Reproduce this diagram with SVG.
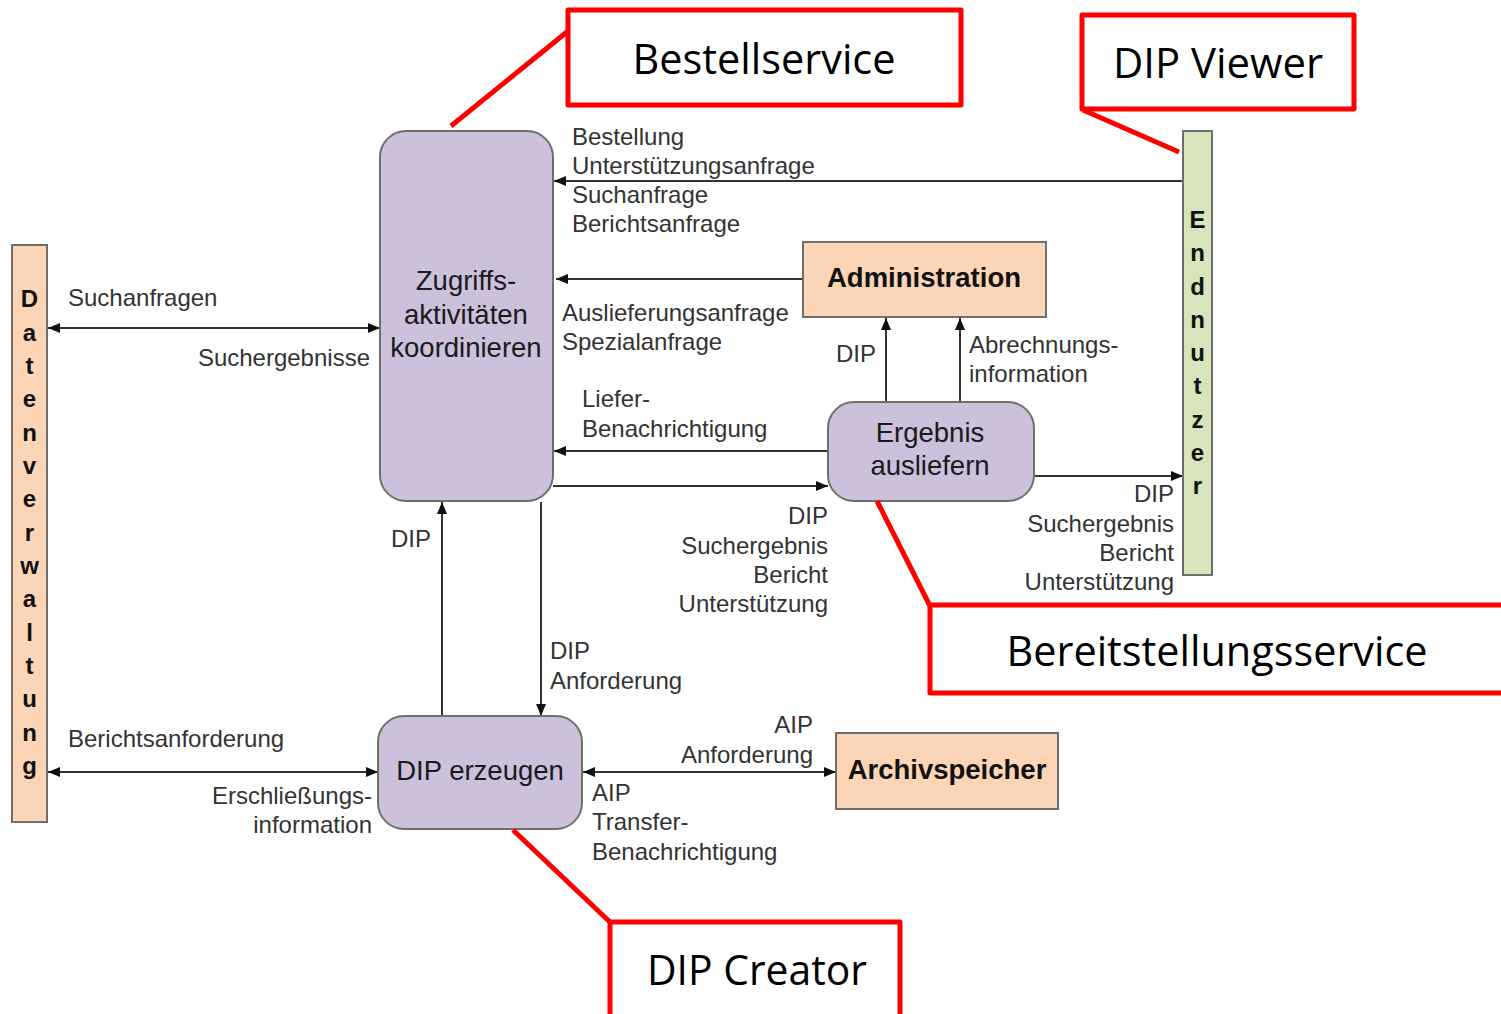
<svg xmlns="http://www.w3.org/2000/svg" width="1501" height="1014" viewBox="0 0 1501 1014">
<defs>
<marker id="ah" markerWidth="12" markerHeight="11" refX="12" refY="5.5" orient="auto-start-reverse" markerUnits="userSpaceOnUse">
<path d="M0,0.5 L12,5.5 L0,10.5 z" fill="#111"/>
</marker>
<style>
.proc{fill:#ccc0da;stroke:#6e6e6e;stroke-width:2}
.ext{fill:#fbd5b5;stroke:#6e6e6e;stroke-width:2}
.usr{fill:#d7e4bc;stroke:#6e6e6e;stroke-width:2}
.lbl{font-family:"Liberation Sans",Arial,sans-serif;font-size:24px;fill:#333}
.ptxt{font-family:"Liberation Sans",Arial,sans-serif;font-size:27.5px;fill:#1a1a1a;text-anchor:middle}
.btxt{font-family:"Liberation Sans",Arial,sans-serif;font-size:27.5px;font-weight:bold;fill:#111;text-anchor:middle}
.col{font-family:"Liberation Sans",Arial,sans-serif;font-size:24px;font-weight:bold;fill:#111;text-anchor:middle}
.con{stroke:#333;stroke-width:2;fill:none}
.red{fill:#fff;stroke:#ff0000;stroke-width:5;stroke-linejoin:round}
.redl{stroke:#ff0000;stroke-width:5;fill:none}
.ctxt{font-family:"Open Sans","Noto Sans","Liberation Sans",sans-serif;font-size:42px;fill:#000;text-anchor:middle}
.e{text-anchor:end}
</style>
</defs>
<rect width="1501" height="1014" fill="#fff"/>

<g id="connectors">
<line class="con" x1="1183" y1="181" x2="554" y2="181" stroke="#555" marker-end="url(#ah)"/>
<line class="con" x1="803" y1="279" x2="556" y2="279" marker-end="url(#ah)"/>
<line class="con" x1="48" y1="328" x2="380" y2="328" marker-start="url(#ah)" marker-end="url(#ah)"/>
<line class="con" x1="828" y1="451" x2="554" y2="451" marker-end="url(#ah)"/>
<line class="con" x1="553" y1="486" x2="828" y2="486" marker-end="url(#ah)"/>
<line class="con" x1="1034" y1="476" x2="1183" y2="476" marker-end="url(#ah)"/>
<line class="con" x1="886" y1="402" x2="886" y2="318" marker-end="url(#ah)"/>
<line class="con" x1="960" y1="402" x2="960" y2="318" marker-end="url(#ah)"/>
<line class="con" x1="442" y1="716" x2="442" y2="502" marker-end="url(#ah)"/>
<line class="con" x1="541" y1="502" x2="541" y2="716" marker-end="url(#ah)"/>
<line class="con" x1="48" y1="772" x2="378" y2="772" marker-start="url(#ah)" marker-end="url(#ah)"/>
<line class="con" x1="583" y1="772" x2="836" y2="772" marker-start="url(#ah)" marker-end="url(#ah)"/>
</g>

<g id="labels">
<text class="lbl" x="572" y="145">Bestellung</text>
<text class="lbl" x="572" y="174">Unterstützungsanfrage</text>
<text class="lbl" x="572" y="203">Suchanfrage</text>
<text class="lbl" x="572" y="232">Berichtsanfrage</text>
<text class="lbl" x="562" y="321">Auslieferungsanfrage</text>
<text class="lbl" x="562" y="350">Spezialanfrage</text>
<text class="lbl" x="68" y="306">Suchanfragen</text>
<text class="lbl e" x="370" y="366">Suchergebnisse</text>
<text class="lbl" x="836" y="362">DIP</text>
<text class="lbl" x="969" y="353">Abrechnungs-</text>
<text class="lbl" x="969" y="382">information</text>
<text class="lbl" x="582" y="407">Liefer-</text>
<text class="lbl" x="582" y="437">Benachrichtigung</text>
<text class="lbl e" x="828" y="524">DIP</text>
<text class="lbl e" x="828" y="554">Suchergebnis</text>
<text class="lbl e" x="828" y="583">Bericht</text>
<text class="lbl e" x="828" y="612">Unterstützung</text>
<text class="lbl e" x="1174" y="502">DIP</text>
<text class="lbl e" x="1174" y="532">Suchergebnis</text>
<text class="lbl e" x="1174" y="561">Bericht</text>
<text class="lbl e" x="1174" y="590">Unterstützung</text>
<text class="lbl" x="391" y="547">DIP</text>
<text class="lbl" x="550" y="659">DIP</text>
<text class="lbl" x="550" y="689">Anforderung</text>
<text class="lbl" x="68" y="747">Berichtsanforderung</text>
<text class="lbl e" x="372" y="804">Erschließungs-</text>
<text class="lbl e" x="372" y="833">information</text>
<text class="lbl e" x="813" y="733">AIP</text>
<text class="lbl e" x="813" y="763">Anforderung</text>
<text class="lbl" x="592" y="801">AIP</text>
<text class="lbl" x="592" y="830">Transfer-</text>
<text class="lbl" x="592" y="860">Benachrichtigung</text>
</g>

<g id="zugriff">
<rect class="proc" x="380" y="131" width="173" height="370" rx="26"/>
<text class="ptxt" x="466" y="290">Zugriffs-</text>
<text class="ptxt" x="466" y="324">aktivitäten</text>
<text class="ptxt" x="466" y="357">koordinieren</text>
</g>

<g id="ergebnis">
<rect class="proc" x="828" y="402" width="206" height="99" rx="26"/>
<text class="ptxt" x="930" y="442">Ergebnis</text>
<text class="ptxt" x="930" y="475">ausliefern</text>
</g>

<g id="dip-erzeugen">
<rect class="proc" x="378" y="716" width="204" height="113" rx="26"/>
<text class="ptxt" x="480" y="780">DIP erzeugen</text>
</g>

<g id="administration">
<rect class="ext" x="803" y="242" width="243" height="75"/>
<text class="btxt" x="924" y="287">Administration</text>
</g>

<g id="archivspeicher">
<rect class="ext" x="836" y="733" width="222" height="76"/>
<text class="btxt" x="947" y="779">Archivspeicher</text>
</g>

<g id="datenverwaltung">
<rect class="ext" x="12" y="245" width="35" height="577"/>
<text class="col" x="29.5" y="307">D</text>
<text class="col" x="29.5" y="341">a</text>
<text class="col" x="29.5" y="374">t</text>
<text class="col" x="29.5" y="407">e</text>
<text class="col" x="29.5" y="441">n</text>
<text class="col" x="29.5" y="474">v</text>
<text class="col" x="29.5" y="507">e</text>
<text class="col" x="29.5" y="541">r</text>
<text class="col" x="29.5" y="574">w</text>
<text class="col" x="29.5" y="607">a</text>
<text class="col" x="29.5" y="641">l</text>
<text class="col" x="29.5" y="674">t</text>
<text class="col" x="29.5" y="707">u</text>
<text class="col" x="29.5" y="741">n</text>
<text class="col" x="29.5" y="774">g</text>
</g>

<g id="endnutzer">
<rect class="usr" x="1183" y="131" width="29" height="444"/>
<text class="col" x="1197.5" y="228">E</text>
<text class="col" x="1197.5" y="261">n</text>
<text class="col" x="1197.5" y="295">d</text>
<text class="col" x="1197.5" y="328">n</text>
<text class="col" x="1197.5" y="361">u</text>
<text class="col" x="1197.5" y="394">t</text>
<text class="col" x="1197.5" y="428">z</text>
<text class="col" x="1197.5" y="461">e</text>
<text class="col" x="1197.5" y="494">r</text>
</g>

<g id="callout-bestellservice">
<line class="redl" x1="573" y1="27" x2="451" y2="126"/>
<rect class="red" x="568" y="10" width="393" height="95"/>
<text class="ctxt" x="764" y="74" textLength="263" lengthAdjust="spacingAndGlyphs">Bestellservice</text>
</g>

<g id="callout-dipviewer">
<line class="redl" x1="1083" y1="110" x2="1179" y2="152"/>
<rect class="red" x="1082" y="15" width="272" height="94"/>
<text class="ctxt" x="1218" y="78" textLength="210" lengthAdjust="spacingAndGlyphs">DIP Viewer</text>
</g>

<g id="callout-bereitstellungsservice">
<line class="redl" x1="877" y1="501" x2="930" y2="606"/>
<rect class="red" x="930" y="605" width="600" height="88"/>
<text class="ctxt" x="1217" y="666" textLength="421" lengthAdjust="spacingAndGlyphs">Bereitstellungsservice</text>
</g>

<g id="callout-dipcreator">
<line class="redl" x1="513" y1="830" x2="611" y2="923"/>
<rect class="red" x="610" y="922" width="290" height="120"/>
<text class="ctxt" x="757" y="985" textLength="220" lengthAdjust="spacingAndGlyphs">DIP Creator</text>
</g>
</svg>
